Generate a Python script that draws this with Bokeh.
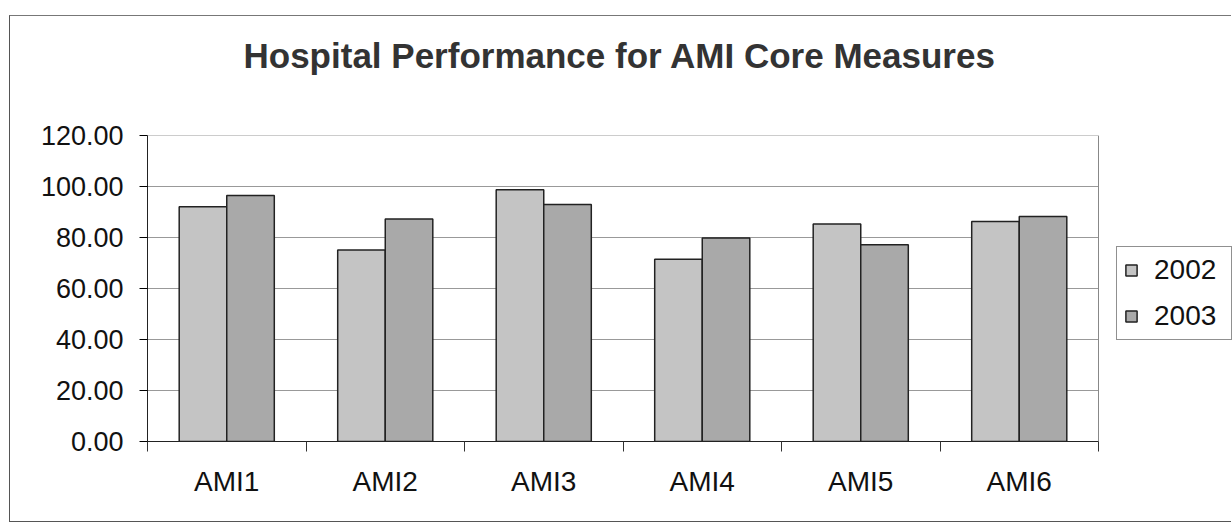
from bokeh.plotting import figure
from bokeh.models import ColumnDataSource, FixedTicker, Range1d, Legend, LegendItem, NumeralTickFormatter, Title
from bokeh.transform import dodge
from bokeh.embed import file_html
from bokeh.resources import INLINE

categories = ["AMI1", "AMI2", "AMI3", "AMI4", "AMI5", "AMI6"]
years = ["2002", "2003"]
values_2002 = [92.1, 75.1, 98.7, 71.5, 85.3, 86.3]
values_2003 = [96.5, 87.3, 92.9, 79.8, 77.2, 88.2]
y_ticks = [0, 20, 40, 60, 80, 100, 120]

n = len(categories)
centers = [i + 0.5 for i in range(n)]
src = ColumnDataSource(dict(x=centers, cat=categories, v2002=values_2002, v2003=values_2003))

FONT = "Liberation Sans"

# frame spans the legend area too; data area covers 0..n (951 px of 1085 px)
x_end = n * 1085 / 951
p = figure(width=1222, height=507, output_backend="svg", toolbar_location=None,
           x_range=Range1d(0, x_end), y_range=Range1d(0, 120),
           min_border_left=137, min_border_right=0, min_border_top=119, min_border_bottom=82)
p.margin = (15, 0, 0, 9)
p.styles = {"border-left": "1px solid #555", "border-top": "1px solid #777", "border-bottom": "1px solid #555"}

spacer = Title(text=" ", text_font_size="49px", standoff=0)
p.add_layout(spacer, "above")
t = Title(text="Hospital Performance for AMI Core Measures", align="left",
          text_font=FONT, text_font_size="35px", text_font_style="bold", text_color="#333333",
          standoff=10, offset=96)
p.add_layout(t, "above")

# plot-area gridlines and right edge
p.segment(x0=[0] * len(y_ticks), x1=[n] * len(y_ticks), y0=y_ticks, y1=y_ticks,
          line_color="#999999", line_width=1)
p.segment(x0=[n], x1=[n], y0=[y_ticks[0]], y1=[y_ticks[-1]], line_color="#888888", line_width=1)

r1 = p.vbar(x=dodge("x", -0.15, range=p.x_range), top="v2002", width=0.3, source=src,
            fill_color="#c4c4c4", line_color="#222222", line_width=1.5)
r2 = p.vbar(x=dodge("x", 0.15, range=p.x_range), top="v2003", width=0.3, source=src,
            fill_color="#a9a9a9", line_color="#222222", line_width=1.5)

# axes
p.xaxis.ticker = FixedTicker(ticks=centers, minor_ticks=list(range(n + 1)))
p.xaxis.major_label_overrides = {c: cat for c, cat in zip(centers, categories)}
p.xaxis.bounds = (0, n)
p.xaxis.major_tick_out = 0
p.xaxis.major_tick_in = 0
p.xaxis.minor_tick_out = 10
p.xaxis.minor_tick_in = 0
p.xaxis.minor_tick_line_color = "#333333"
p.xaxis.major_label_text_font = FONT
p.xaxis.major_label_text_font_size = "28px"
p.xaxis.major_label_text_color = "#111111"
p.xaxis.major_label_standoff = 14
p.xaxis.axis_line_color = "#222222"

p.yaxis.ticker = FixedTicker(ticks=y_ticks, minor_ticks=[])
p.yaxis.formatter = NumeralTickFormatter(format="0.00")
p.yaxis.major_tick_out = 8
p.yaxis.major_tick_in = 0
p.yaxis.major_label_text_font = FONT
p.yaxis.major_label_text_font_size = "27px"
p.yaxis.major_label_text_color = "#111111"
p.yaxis.major_label_standoff = 16
p.yaxis.axis_line_color = "#222222"

p.xgrid.grid_line_color = None
p.ygrid.grid_line_color = None
p.outline_line_color = None

legend = Legend(items=[LegendItem(label=years[0], renderers=[r1]),
                       LegendItem(label=years[1], renderers=[r2])],
                location=(969, 101), orientation="vertical")
legend.label_text_font = FONT
legend.label_text_font_size = "28px"
legend.label_text_color = "#111111"
legend.glyph_width = 14
legend.glyph_height = 14
legend.label_height = 28
legend.label_width = 70
legend.label_standoff = 16
legend.spacing = 14
legend.padding = 7
legend.margin = 0
legend.border_line_color = "#222222"
legend.border_line_width = 1
legend.background_fill_color = "white"
p.add_layout(legend, "center")

open("out.html", "w").write(file_html(p, INLINE))
